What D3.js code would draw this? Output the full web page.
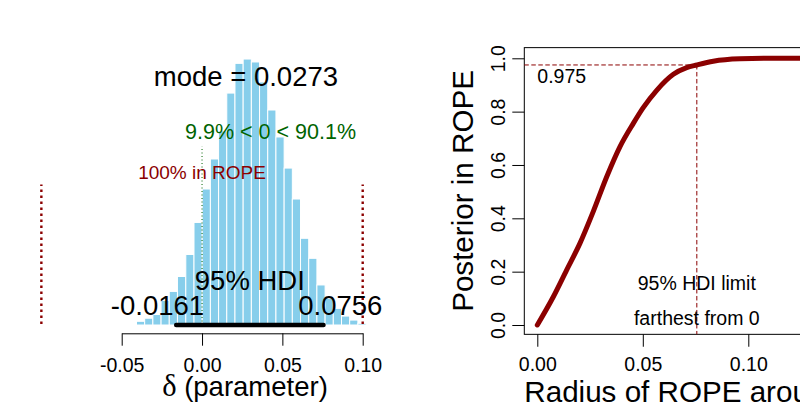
<!DOCTYPE html>
<html>
<head>
<meta charset="utf-8">
<script src="https://cdn.jsdelivr.net/npm/d3@7"></script>
<style>
  body { margin: 0; background: #fff; }
  svg { display: block; }
  text { font-family: "Liberation Sans", Arial, sans-serif; }
</style>
</head>
<body>
<div id="chart"></div>
<script>
// posterior of delta: histogram (density) with HDI and ROPE, plus ROPE-radius curve

// histogram breaks and densities
const breaks = [-0.0459, -0.0408, -0.0357, -0.0306, -0.0255, -0.0204, -0.0153, -0.0101, -0.0050, 0.0001,
                0.0052, 0.0103, 0.0154, 0.0205, 0.0256, 0.0307, 0.0358, 0.0409, 0.0460, 0.0511,
                0.0562, 0.0613, 0.0664, 0.0715, 0.0766, 0.0817, 0.0868, 0.0919, 0.0970, 0.1021];
const density = [0.06, 0.24, 0.44, 0.68, 1.59, 2.18, 3.15, 4.58, 6.66, 8.83,
                 10.78, 12.60, 15.06, 16.99, 17.27, 17.08, 15.78, 13.96, 12.21, 10.19,
                 8.18, 5.63, 4.33, 2.60, 1.73, 1.08, 0.58, 0.32, 0.11];
const hdi = [-0.0161, 0.0756];
const modeVal = 0.0273;
const compVal = 0;
const pcLtComp = 9.9;
const pcGtComp = 90.1;
const rope = [-0.1, 0.1];
const pcInRope = 100;
const leftTicks = [-0.05, 0.00, 0.05, 0.10];

// posterior mass inside ROPE of given radius
const radius = [0, 0.0076, 0.0139, 0.0202, 0.0265, 0.0329, 0.0392, 0.0455, 0.0502, 0.0566,
                0.0645, 0.0708, 0.0756, 0.0834, 0.0960, 0.1100, 0.1250, 0.1400, 0.1540];
const pInRope = [0, 0.106, 0.206, 0.306, 0.425, 0.556, 0.669, 0.756, 0.815, 0.880,
                 0.940, 0.965, 0.975, 0.989, 0.998, 1.0, 1.0, 1.0, 1.0];
const credLevel = 0.975;
const rightXTicks = [0.00, 0.05, 0.10, 0.15];
const rightYTicks = [0.0, 0.2, 0.4, 0.6, 0.8, 1.0];

const svg = d3.select("#chart")
    .append("svg")
    .attr("width", 800)
    .attr("height", 420);

const font = '"Liberation Sans", Arial, sans-serif';
const darkred = "#8b0000";

// ---------- left panel ----------
const xL = d3.scaleLinear().domain([-0.05, 0.10]).range([121.7, 362.7]);
const yL = d3.scaleLinear().domain([0, 20]).range([325, 17]);
const maxD = d3.max(density);

const bins = density.map((d, i) => ({ x0: breaks[i], x1: breaks[i + 1], d: d }));

svg.append("g")
    .selectAll("rect")
    .data(bins)
    .enter()
    .append("rect")
    .attr("x", b => xL(b.x0))
    .attr("width", b => xL(b.x1) - xL(b.x0))
    .attr("y", b => yL(b.d))
    .attr("height", b => yL(0) - yL(b.d))
    .attr("fill", "#87ceeb")
    .attr("stroke", "#fff")
    .attr("stroke-width", 1);

// x axis
const axL = svg.append("g")
    .attr("transform", "translate(0,333.3)")
    .call(d3.axisBottom(xL).tickValues(leftTicks).tickSize(12.4).tickSizeOuter(0));
axL.select(".domain").attr("stroke", "#000");
axL.selectAll(".tick line").attr("stroke", "#000");
axL.selectAll("text")
    .text(d => d.toFixed(2))
    .attr("dy", null)
    .attr("y", 38.4)
    .attr("font-size", 19.5)
    .attr("font-family", font)
    .attr("fill", "#000");

const xlab = svg.append("text")
    .attr("x", 245)
    .attr("y", 396)
    .attr("text-anchor", "middle")
    .attr("font-size", 27.5);
xlab.append("tspan").attr("font-family", '"Liberation Serif", "DejaVu Serif", serif').attr("font-size", 30.5).text("δ");
xlab.append("tspan").text(" (parameter)");

// comparison value
svg.append("line")
    .attr("x1", xL(compVal)).attr("x2", xL(compVal))
    .attr("y1", yL(0)).attr("y2", yL(0.96 * 0.7 * maxD))
    .attr("stroke", "#006400")
    .attr("stroke-width", 1)
    .attr("stroke-dasharray", "1,2.5");

const compText = svg.append("text")
    .attr("y", yL(0.7 * maxD))
    .attr("font-size", 21.5)
    .attr("fill", "#006400")
    .text(`${pcLtComp}% < ${compVal} < ${pcGtComp}%`);
compText.attr("x", xL(compVal) - (pcLtComp / 100) * compText.node().getComputedTextLength());

// ROPE
svg.append("g")
    .selectAll("line")
    .data(rope)
    .enter()
    .append("line")
    .attr("x1", d => xL(d)).attr("x2", d => xL(d))
    .attr("y1", yL(0) - 1).attr("y2", yL(0.96 * 0.55 * maxD))
    .attr("stroke", darkred)
    .attr("stroke-width", 2.4)
    .attr("stroke-dasharray", "2.4,3.6");

svg.append("text")
    .attr("x", xL(d3.mean(rope)))
    .attr("y", yL(0.55 * maxD))
    .attr("text-anchor", "middle")
    .attr("font-size", 19)
    .attr("fill", darkred)
    .text(`${pcInRope}% in ROPE`);

// mode
svg.append("text")
    .attr("x", xL(modeVal))
    .attr("y", yL(0.9 * maxD))
    .attr("text-anchor", "middle")
    .attr("font-size", 27.5)
    .text(`mode = ${modeVal}`);

// HDI
svg.append("line")
    .attr("x1", xL(hdi[0])).attr("x2", xL(hdi[1]))
    .attr("y1", yL(0)).attr("y2", yL(0))
    .attr("stroke", "#000")
    .attr("stroke-width", 4.5)
    .attr("stroke-linecap", "round");

svg.append("text")
    .attr("x", xL(d3.mean(hdi)))
    .attr("y", yL(0) - 35)
    .attr("text-anchor", "middle")
    .attr("font-size", 27.5)
    .text("95% HDI");

const adjs = [0.7, 0.3];
hdi.forEach((h, i) => {
    const t = svg.append("text")
        .attr("y", yL(0) - 10)
        .attr("font-size", 27.5)
        .text(h.toFixed(4));
    t.attr("x", xL(h) - adjs[i] * t.node().getComputedTextLength());
});

// ---------- right panel ----------
const xR = d3.scaleLinear().domain([0, 0.15]).range([537.3, 853.8]);
const yR = d3.scaleLinear().domain([0, 1]).range([325, 58.3]);
const rMax = d3.max(radius);
const boxL = xR(-0.04 * rMax), boxR = xR(1.04 * rMax);
const boxT = yR(1.04), boxB = yR(-0.035);

svg.append("rect")
    .attr("x", boxL).attr("y", boxT)
    .attr("width", boxR - boxL).attr("height", boxB - boxT)
    .attr("fill", "none")
    .attr("stroke", "#000")
    .attr("stroke-width", 1);

const axRx = svg.append("g")
    .attr("transform", `translate(0,${boxB})`)
    .call(d3.axisBottom(xR).tickValues(rightXTicks).tickSize(12.4).tickSizeOuter(0));
axRx.select(".domain").remove();
axRx.selectAll(".tick line").attr("stroke", "#000");
axRx.selectAll("text")
    .text(d => d.toFixed(2))
    .attr("dy", null)
    .attr("y", 36.8)
    .attr("font-size", 19.5)
    .attr("font-family", font)
    .attr("fill", "#000");

const axRy = svg.append("g")
    .attr("transform", `translate(${boxL},0)`)
    .call(d3.axisLeft(yR).tickValues(rightYTicks).tickSize(12).tickSizeOuter(0));
axRy.select(".domain").remove();
axRy.selectAll(".tick line").attr("stroke", "#000");
axRy.selectAll("text")
    .text(d => d.toFixed(1))
    .attr("dy", null)
    .attr("x", null)
    .attr("text-anchor", "middle")
    .attr("transform", `translate(${505 - boxL},0) rotate(-90)`)
    .attr("font-size", 19.5)
    .attr("font-family", font)
    .attr("fill", "#000");

svg.append("text")
    .attr("transform", `translate(473.3,${(boxT + boxB) / 2}) rotate(-90)`)
    .attr("text-anchor", "middle")
    .attr("font-size", 29.6)
    .text("Posterior in ROPE");

svg.append("text")
    .attr("x", boxL)
    .attr("y", 401.7)
    .attr("font-size", 29.6)
    .text("Radius of ROPE around 0");

// 95% HDI limit guides
const hdiFar = d3.max(hdi, Math.abs);
svg.append("line")
    .attr("x1", boxL).attr("x2", xR(hdiFar))
    .attr("y1", yR(credLevel)).attr("y2", yR(credLevel))
    .attr("stroke", darkred).attr("stroke-width", 1)
    .attr("stroke-dasharray", "4.5,2.5");
svg.append("line")
    .attr("x1", xR(hdiFar)).attr("x2", xR(hdiFar))
    .attr("y1", yR(credLevel)).attr("y2", boxB)
    .attr("stroke", darkred).attr("stroke-width", 1)
    .attr("stroke-dasharray", "4.5,2.5");

const curve = radius.map((r, i) => [r, pInRope[i]]);
svg.append("path")
    .datum(curve)
    .attr("d", d3.line().x(d => xR(d[0])).y(d => yR(d[1])).curve(d3.curveMonotoneX))
    .attr("fill", "none")
    .attr("stroke", darkred)
    .attr("stroke-width", 5)
    .attr("stroke-linecap", "round")
    .attr("stroke-linejoin", "round");

svg.append("text")
    .attr("x", xR(0))
    .attr("y", yR(credLevel) + 18.3)
    .attr("font-size", 19.5)
    .text(credLevel);

svg.append("text")
    .attr("x", xR(hdiFar))
    .attr("y", yR(0) - 35)
    .attr("text-anchor", "middle")
    .attr("font-size", 19.5)
    .text("95% HDI limit");

svg.append("text")
    .attr("x", xR(hdiFar))
    .attr("y", yR(0))
    .attr("text-anchor", "middle")
    .attr("font-size", 19.5)
    .text("farthest from 0");
</script>
</body>
</html>
